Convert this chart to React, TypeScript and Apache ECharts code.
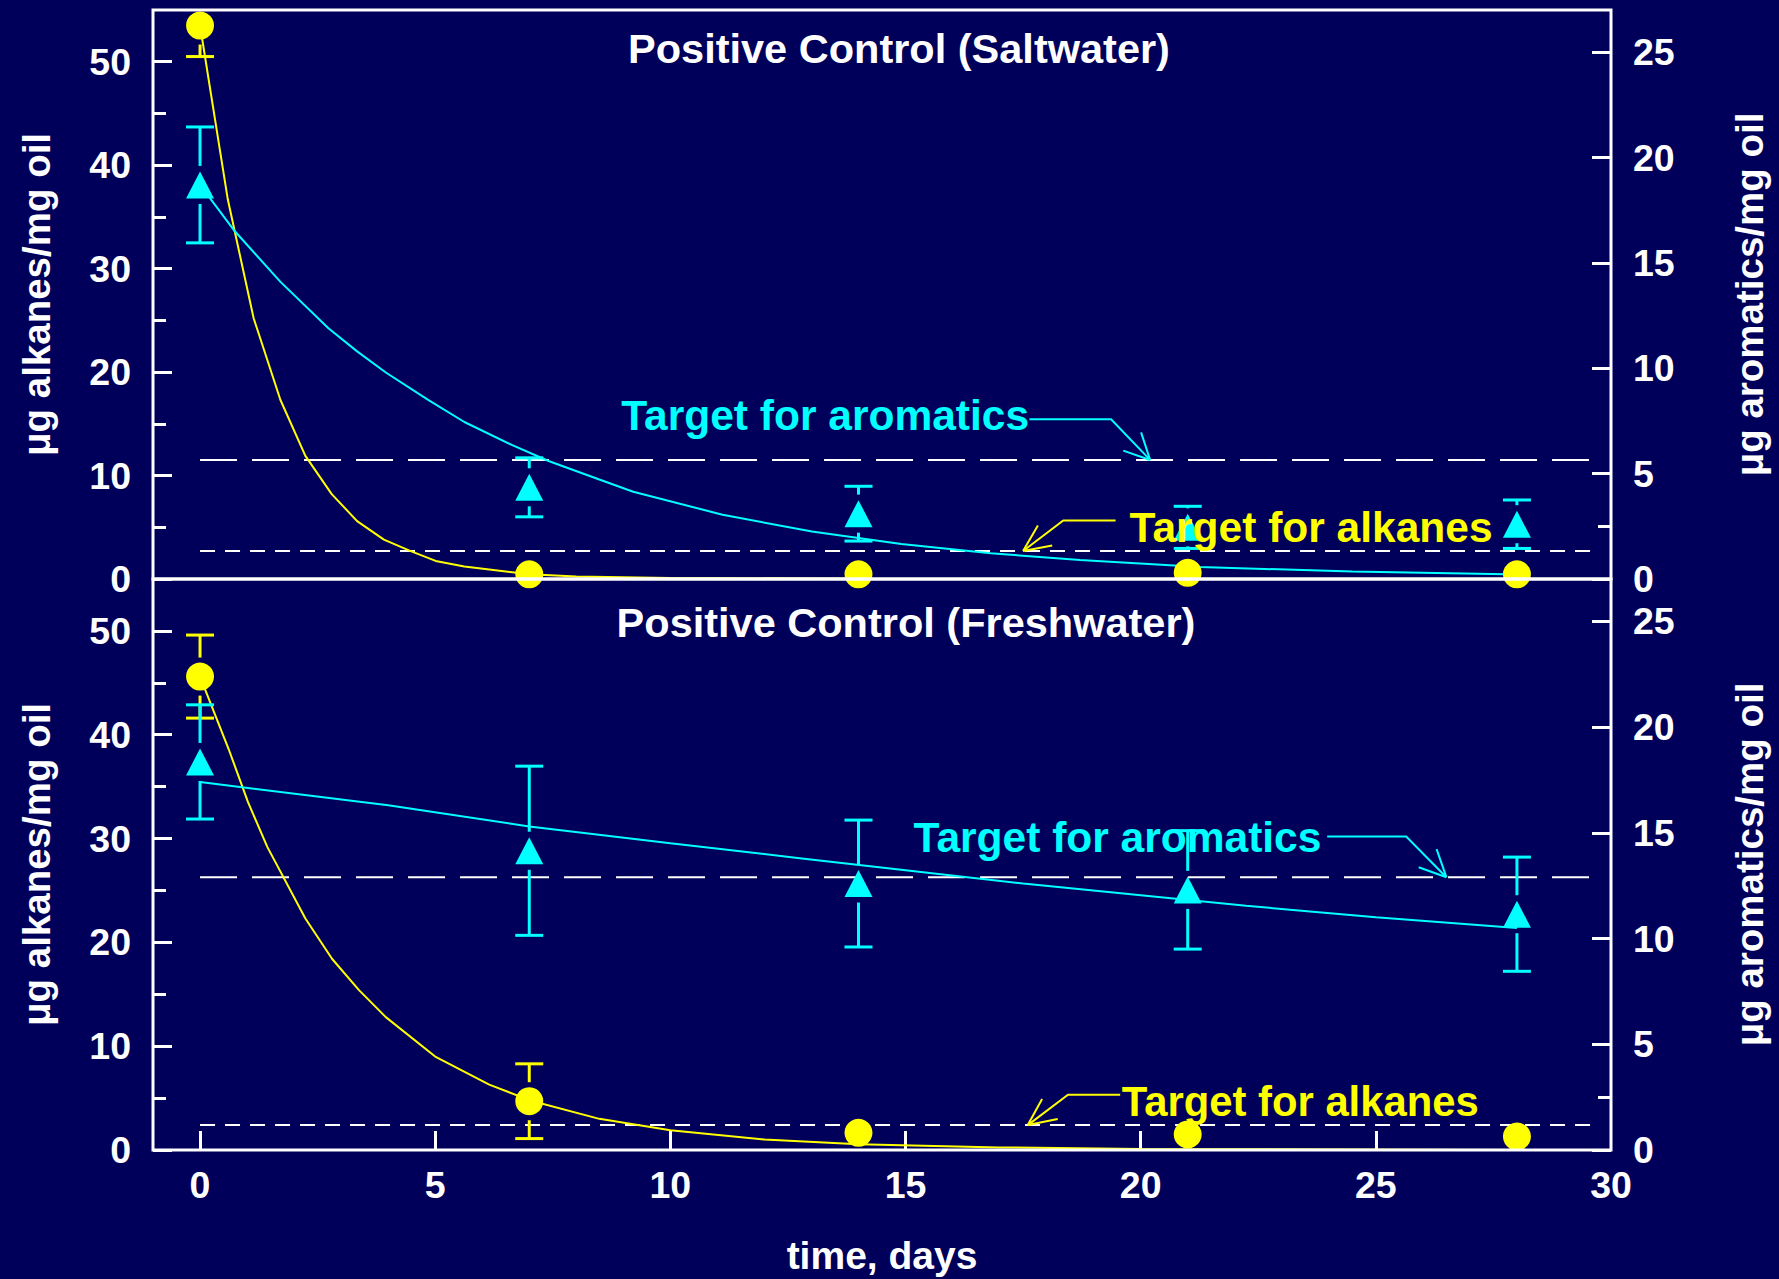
import React, { useEffect, useRef } from "react";
import * as echarts from "echarts";

// ---------- data ----------
const days = [0, 7, 14, 21, 28];

// Positive Control (Saltwater)
const saltAlkanes = [53.5, 0.45, 0.45, 0.6, 0.45];
const saltAlkanesErr = [3.0, 0, 0, 0, 0];
const saltAromatics = [18.7, 4.35, 3.1, 2.45, 2.6];
const saltAromaticsErr = [2.75, 1.4, 1.3, 1.0, 1.15];

// Positive Control (Freshwater)
const freshAlkanes = [45.6, 4.7, 1.65, 1.5, 1.3];
const freshAlkanesErr = [4.0, 3.6, 0, 0, 0];
const freshAromatics = [18.35, 14.15, 12.6, 12.3, 11.15];
const freshAromaticsErr = [2.7, 4.0, 3.0, 2.8, 2.7];

// fitted curves (read point by point)
const saltAlkFitX = [0, 0.59, 1.14, 1.71, 2.24, 2.8, 3.34, 3.91, 4.48, 5.01, 5.62, 7.0, 8, 10, 14, 21, 28];
const saltAlkFitY = [53.5, 36.7, 25.2, 17.3, 11.9, 8.2, 5.6, 3.8, 2.7, 1.75, 1.2, 0.45, 0.25, 0.1, 0.02, 0, 0];
const saltAromFitX = [0, 0.74, 1.71, 2.73, 3.34, 3.95, 4.85, 5.62, 6.64, 7.41, 8.49, 9.21, 11.11, 13.01, 14.91, 16.81, 18.71, 21.26, 24.5, 28.06];
const saltAromFitY = [18.7, 16.5, 14.1, 11.9, 10.8, 9.8, 8.5, 7.45, 6.35, 5.6, 4.72, 4.14, 3.05, 2.25, 1.66, 1.22, 0.9, 0.57, 0.35, 0.21];
const freshAlkFitX = [0, 0.61, 1.02, 1.43, 2.24, 2.81, 3.38, 3.95, 5.0, 6.15, 7.0, 8.49, 10, 12, 14, 17, 20, 28];
const freshAlkFitY = [45.6, 38.6, 33.5, 29.2, 22.3, 18.4, 15.4, 12.8, 9.0, 6.3, 4.8, 3.0, 1.9, 1.0, 0.55, 0.25, 0.1, 0];
const freshAromFitX = [0, 4, 7, 10, 12.75, 17.5, 22.24, 25, 28];
const freshAromFitY = [17.4, 16.3, 15.3, 14.5, 13.8, 12.6, 11.55, 11.0, 10.5];

// target lines
const saltAlkTarget = 2.7;
const saltAromTarget = 5.65;
const freshAlkTarget = 2.4;
const freshAromTarget = 12.9;
const targetSpan = [0, 29.7];

// ticks
const xTickLabels = [0, 5, 10, 15, 20, 25, 30];
const xTickMarks = [0, 5, 10, 15, 20, 25];
const leftTicks = [0, 10, 20, 30, 40, 50];
const leftMinorTicks = [5, 15, 25, 35, 45];
const rightTicks = [0, 5, 10, 15, 20, 25];
const rightMinorTicks = [2.5];

// annotations
const annotTexts = ["Target for aromatics", "Target for alkanes", "Target for aromatics", "Target for alkanes"];
const annotTipDay = [20.2, 17.5, 26.5, 17.6];

// ---------- styling / layout ----------
const FONT = '"Liberation Sans", Arial, Helvetica, sans-serif';
const BG = "#00005a";
const WHITE = "#ffffff";
const YELLOW = "#ffff00";
const CYAN = "#00ffff";
const GRID_LEFT = 153;
const GRID_W = 1458;
const GRIDS = [
  { top: 10, height: 569 },
  { top: 579, height: 571 },
];

const pairs = (xs: number[], ys: number[]) => xs.map((x, i) => [x, ys[i]]);
const triples = (xs: number[], ms: number[], es: number[]) => xs.map((x, i) => [x, ms[i], es[i]]);

function errorBars(xAxisIndex: number, yAxisIndex: number, data: number[][], color: string) {
  return {
    type: "custom",
    xAxisIndex,
    yAxisIndex,
    clip: true,
    z: 3,
    silent: true,
    data,
    renderItem: (_params: any, api: any) => {
      const x = api.value(0);
      const m = api.value(1);
      const e = api.value(2);
      if (!(e > 0)) return { type: "group", children: [] };
      const c = api.coord([x, m]);
      const t = api.coord([x, m + e]);
      const b = api.coord([x, m - e]);
      const gap = 19;
      const half = 14;
      const style = { stroke: color, lineWidth: 3 };
      const children: any[] = [];
      if (t[1] < c[1] - gap) children.push({ type: "line", shape: { x1: c[0], y1: t[1], x2: c[0], y2: c[1] - gap }, style });
      if (b[1] > c[1] + gap) children.push({ type: "line", shape: { x1: c[0], y1: c[1] + gap, x2: c[0], y2: b[1] }, style });
      children.push({ type: "line", shape: { x1: c[0] - half, y1: t[1], x2: c[0] + half, y2: t[1] }, style });
      children.push({ type: "line", shape: { x1: c[0] - half, y1: b[1], x2: c[0] + half, y2: b[1] }, style });
      return { type: "group", children };
    },
  };
}

function fitLine(xAxisIndex: number, yAxisIndex: number, xs: number[], ys: number[], color: string) {
  return {
    type: "line",
    xAxisIndex,
    yAxisIndex,
    data: pairs(xs, ys),
    symbol: "none",
    smooth: false,
    z: 2,
    silent: true,
    lineStyle: { color, width: 2 },
  };
}

function targetLine(xAxisIndex: number, yAxisIndex: number, value: number, dash: number[]) {
  return {
    type: "line",
    xAxisIndex,
    yAxisIndex,
    data: targetSpan.map((x) => [x, value]),
    symbol: "none",
    z: 1,
    silent: true,
    lineStyle: { color: WHITE, width: 2, type: dash },
  };
}

function markers(xAxisIndex: number, yAxisIndex: number, ys: number[], symbol: string, size: any, color: string) {
  return {
    type: "scatter",
    xAxisIndex,
    yAxisIndex,
    data: pairs(days, ys),
    symbol,
    symbolSize: size,
    z: 4,
    silent: true,
    itemStyle: { color, opacity: 1 },
  };
}

const labelStyle = { color: WHITE, fontSize: 37.5, fontWeight: "bold", fontFamily: FONT };
const nameStyle = { color: WHITE, fontSize: 38.5, fontWeight: "bold", fontFamily: FONT };

function yMain(gridIndex: number, position: string, max: number, ticks: number[], name: string, nameGap: number) {
  return {
    type: "value",
    gridIndex,
    position,
    min: 0,
    max,
    splitLine: { show: false },
    axisLine: { show: false, onZero: false },
    axisTick: { show: true, inside: true, length: 19, customValues: ticks, lineStyle: { color: WHITE, width: 3 } },
    axisLabel: { ...labelStyle, customValues: ticks, margin: 22 },
    name,
    nameLocation: "middle",
    nameRotate: 90,
    nameGap,
    nameTextStyle: nameStyle,
  };
}

function yMinor(gridIndex: number, position: string, max: number, ticks: number[]) {
  return {
    type: "value",
    gridIndex,
    position,
    min: 0,
    max,
    splitLine: { show: false },
    axisLine: { show: false, onZero: false },
    axisTick: { show: true, inside: true, length: 13, customValues: ticks, lineStyle: { color: WHITE, width: 3 } },
    axisLabel: { show: false },
  };
}

export default function App() {
  const ref = useRef<HTMLDivElement>(null);

  useEffect(() => {
    if (!ref.current) return;
    const chart = echarts.init(ref.current, null, { renderer: "svg" });

    const alkName = "\u03bcg alkanes/mg oil";
    const aromName = "\u03bcg aromatics/mg oil";

    const option: any = {
      animation: false,
      backgroundColor: BG,
      grid: GRIDS.map((g) => ({
        left: GRID_LEFT,
        top: g.top,
        width: GRID_W,
        height: g.height,
        show: false,
        containLabel: false,
        outerBoundsMode: "none",
      })),
      xAxis: [
        {
          type: "value",
          gridIndex: 0,
          min: -1,
          max: 30,
          splitLine: { show: false },
          axisLine: { show: false, onZero: false },
          axisTick: { show: false },
          axisLabel: { show: false },
        },
        {
          type: "value",
          gridIndex: 1,
          min: -1,
          max: 30,
          splitLine: { show: false },
          axisLine: { show: false, onZero: false },
          axisTick: { show: true, inside: true, length: 19, customValues: xTickMarks, lineStyle: { color: WHITE, width: 3 } },
          axisLabel: { ...labelStyle, customValues: xTickLabels, margin: 16 },
          name: "time, days",
          nameLocation: "middle",
          nameGap: 86,
          nameTextStyle: { ...nameStyle, fontSize: 39 },
        },
      ],
      yAxis: [
        yMain(0, "left", 55, leftTicks, alkName, 97),
        yMinor(0, "left", 55, leftMinorTicks),
        yMain(0, "right", 27, rightTicks, aromName, 119),
        yMinor(0, "right", 27, rightMinorTicks),
        yMain(1, "left", 55, leftTicks, alkName, 97),
        yMinor(1, "left", 55, leftMinorTicks),
        yMain(1, "right", 27, rightTicks, aromName, 119),
        yMinor(1, "right", 27, rightMinorTicks),
      ],
      series: [
        // Saltwater
        targetLine(0, 0, saltAlkTarget, [15, 10]),
        targetLine(0, 2, saltAromTarget, [37, 15]),
        fitLine(0, 0, saltAlkFitX, saltAlkFitY, YELLOW),
        fitLine(0, 2, saltAromFitX, saltAromFitY, CYAN),
        errorBars(0, 0, triples(days, saltAlkanes, saltAlkanesErr), YELLOW),
        errorBars(0, 2, triples(days, saltAromatics, saltAromaticsErr), CYAN),
        markers(0, 0, saltAlkanes, "circle", 28, YELLOW),
        markers(0, 2, saltAromatics, "triangle", [28, 27], CYAN),
        // Freshwater
        targetLine(1, 4, freshAlkTarget, [15, 10]),
        targetLine(1, 6, freshAromTarget, [37, 15]),
        fitLine(1, 4, freshAlkFitX, freshAlkFitY, YELLOW),
        fitLine(1, 6, freshAromFitX, freshAromFitY, CYAN),
        errorBars(1, 4, triples(days, freshAlkanes, freshAlkanesErr), YELLOW),
        errorBars(1, 6, triples(days, freshAromatics, freshAromaticsErr), CYAN),
        markers(1, 4, freshAlkanes, "circle", 28, YELLOW),
        markers(1, 6, freshAromatics, "triangle", [28, 27], CYAN),
      ],
    };
    chart.setOption(option);

    // annotation anchors via the chart's own scales
    const tips = [
      chart.convertToPixel({ xAxisIndex: 0, yAxisIndex: 2 } as any, [annotTipDay[0], saltAromTarget]) as number[],
      chart.convertToPixel({ xAxisIndex: 0, yAxisIndex: 0 } as any, [annotTipDay[1], saltAlkTarget]) as number[],
      chart.convertToPixel({ xAxisIndex: 1, yAxisIndex: 6 } as any, [annotTipDay[2], freshAromTarget]) as number[],
      chart.convertToPixel({ xAxisIndex: 1, yAxisIndex: 4 } as any, [annotTipDay[3], freshAlkTarget]) as number[],
    ];
    const layouts = [
      { color: CYAN, knee: [-39, -40.6], end: [-120.6, -40.6], barbs: [[-9, -27.6], [-26.8, -9.3]], text: [-121, -44], align: "right", size: 42.5 },
      { color: YELLOW, knee: [40.2, -30.6], end: [92.5, -30.6], barbs: [[14.8, -25.6], [29.1, -5.6]], text: [106.5, -24], align: "left", size: 42.5 },
      { color: CYAN, knee: [-40.2, -40.6], end: [-119.2, -40.6], barbs: [[-9.8, -28], [-27.7, -10]], text: [-125, -39.3], align: "right", size: 42.5 },
      { color: YELLOW, knee: [40.2, -30.3], end: [92.4, -30.3], barbs: [[14.3, -26], [29.9, -6]], text: [94, -23.3], align: "left", size: 41.8 },
    ];

    const graphics: any[] = [];
    GRIDS.forEach((g) => {
      graphics.push({
        type: "rect",
        z: 100,
        silent: true,
        shape: { x: GRID_LEFT, y: g.top, width: GRID_W, height: g.height },
        style: { fill: "none", stroke: WHITE, lineWidth: 3 },
      });
    });
    graphics.push({
      type: "text",
      z: 101,
      x: 899,
      y: 48,
      style: { text: "Positive Control (Saltwater)", fill: WHITE, fontSize: 41.5, fontWeight: "bold", fontFamily: FONT, align: "center", verticalAlign: "middle" },
    });
    graphics.push({
      type: "text",
      z: 101,
      x: 906,
      y: 622,
      style: { text: "Positive Control (Freshwater)", fill: WHITE, fontSize: 41.5, fontWeight: "bold", fontFamily: FONT, align: "center", verticalAlign: "middle" },
    });
    tips.forEach((tp, i) => {
      const L = layouts[i];
      const [tx, ty] = tp;
      const stroke = { stroke: L.color, lineWidth: 2, fill: "none" };
      graphics.push({
        type: "polyline",
        z: 101,
        silent: true,
        shape: { points: [[tx + L.end[0], ty + L.end[1]], [tx + L.knee[0], ty + L.knee[1]], [tx, ty]] },
        style: stroke,
      });
      L.barbs.forEach((b) => {
        graphics.push({
          type: "line",
          z: 101,
          silent: true,
          shape: { x1: tx, y1: ty, x2: tx + b[0], y2: ty + b[1] },
          style: stroke,
        });
      });
      graphics.push({
        type: "text",
        z: 102,
        x: tx + L.text[0],
        y: ty + L.text[1],
        style: { text: annotTexts[i], fill: L.color, fontSize: L.size, fontWeight: "bold", fontFamily: FONT, align: L.align, verticalAlign: "middle" },
      });
    });
    chart.setOption({ graphic: graphics });

    return () => {
      chart.dispose();
    };
  }, []);

  return (
    <div
      ref={ref}
      style={{ position: "fixed", left: 0, top: 0, width: 1779, height: 1279, background: BG }}
    />
  );
}
